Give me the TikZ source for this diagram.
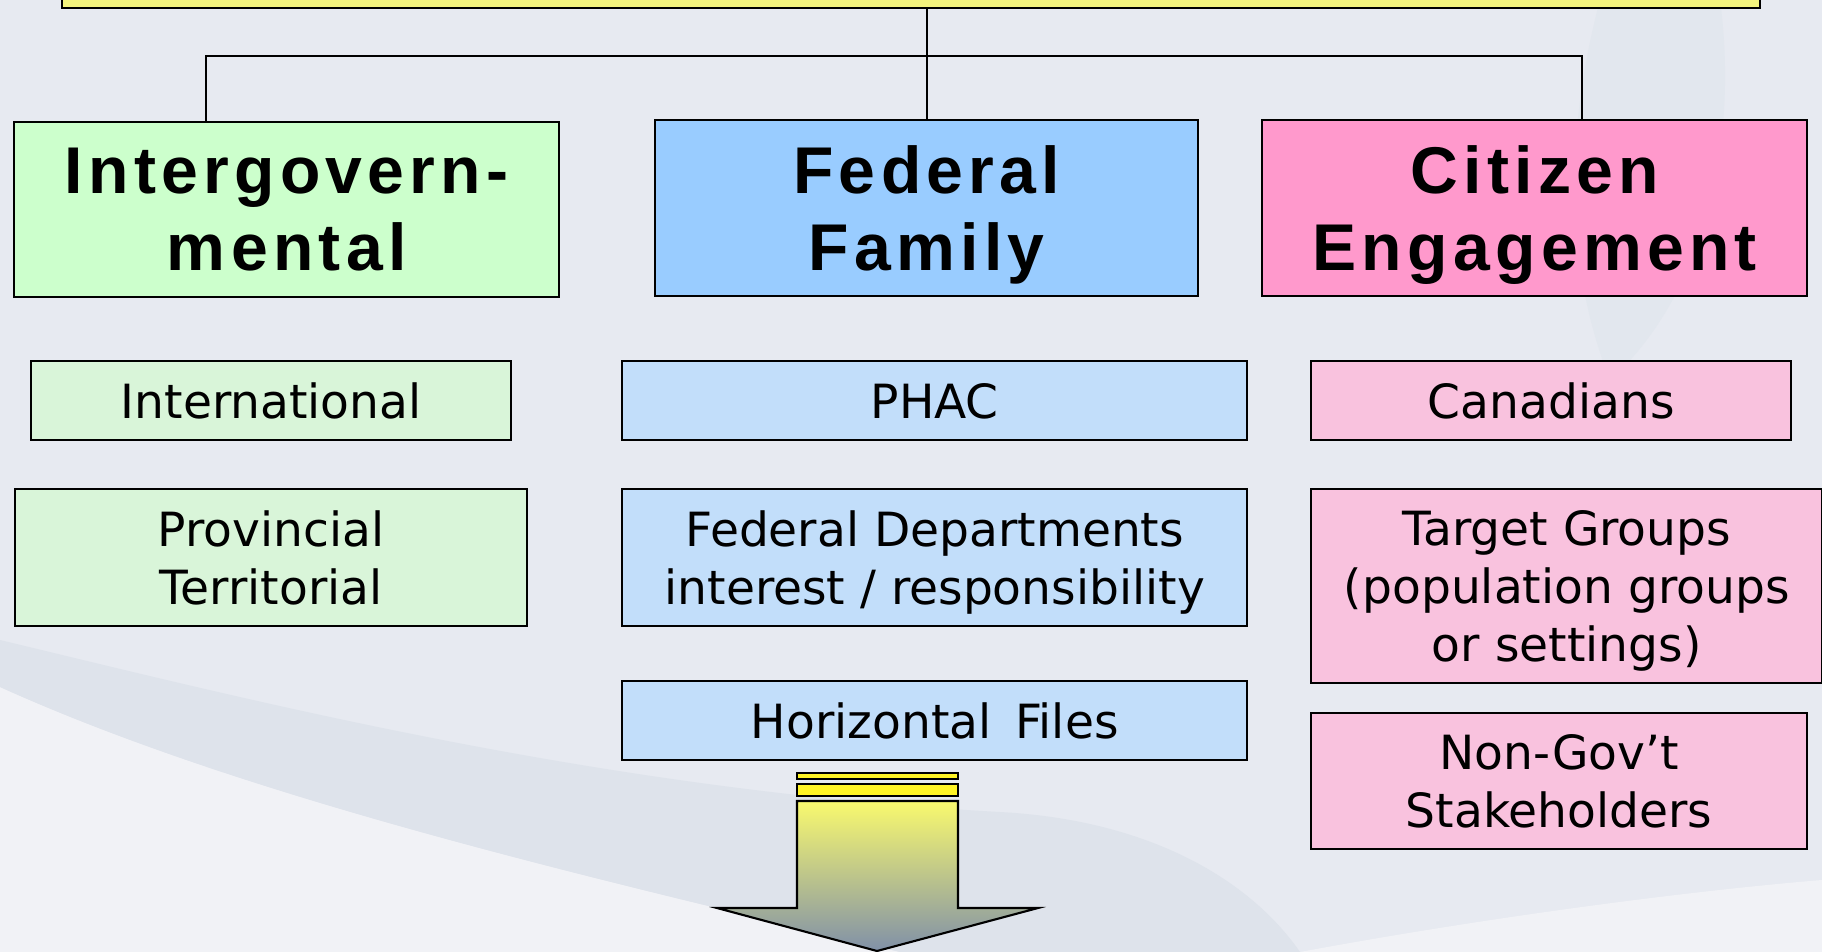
\documentclass[tikz,border=0pt]{standalone}
\usepackage{fontspec}
\setmainfont{DejaVu Sans}
\newfontfamily\headfont[LetterSpace=8]{Liberation Sans}
\usetikzlibrary{positioning}

\definecolor{bgbase}{HTML}{E7EAF1}
\definecolor{bglight}{HTML}{F1F2F6}
\definecolor{bgband}{HTML}{DEE3EB}
\definecolor{topyellow}{HTML}{F3F37D}
\definecolor{igbig}{HTML}{CCFFCC}
\definecolor{ffbig}{HTML}{99CCFF}
\definecolor{cebig}{HTML}{FF99CC}
\definecolor{igsmall}{HTML}{D9F5D9}
\definecolor{ffsmall}{HTML}{C2DEFA}
\definecolor{cesmall}{HTML}{F9C2DE}
\definecolor{arrowtop}{HTML}{F9F96E}
\definecolor{arrowbot}{HTML}{8090A8}

\tikzset{
  bigbox/.style={draw=black,line width=0.6pt,inner sep=0pt,anchor=north west,align=center,
    text depth=0pt,font=\headfont\bfseries\fontsize{18.8pt}{21.9pt}\selectfont},
  subbox/.style={draw=black,line width=0.6pt,inner sep=0pt,anchor=north west,align=center,
    text depth=0pt,font=\fontsize{13.4pt}{16.5pt}\selectfont},
  wire/.style={line width=0.5pt}
}

\begin{document}
\begin{tikzpicture}[x=0.01cm,y=-0.01cm]
\clip (0,0) rectangle (1822,952);
% background
\fill[bgbase] (0,0) rectangle (1822,952);
\fill[bglight] (0,687) .. controls (250,800) and (600,880) .. (900,952) -- (0,952) -- cycle;
\fill[bglight] (1300,952) .. controls (1500,915) and (1700,890) .. (1822,880) -- (1822,952) -- cycle;
\fill[bgband] (0,640) .. controls (250,700) and (600,790) .. (1000,812)
  .. controls (1150,820) and (1250,880) .. (1300,952)
  -- (900,952) .. controls (600,880) and (250,800) .. (0,687) -- cycle;
\fill[bgband!50!bgbase] (1600,0) .. controls (1560,150) and (1570,280) .. (1610,380)
  .. controls (1700,300) and (1740,150) .. (1720,0) -- cycle;

\path node (top) at (61,-100) [bigbox,fill=topyellow,minimum width=16.97cm,minimum height=1.07cm] {}
      node (ig) at (13,121) [bigbox,fill=igbig,minimum width=5.45cm,minimum height=1.75cm] {Intergovern-\\mental}
      node (ff) at (654,119) [bigbox,fill=ffbig,minimum width=5.43cm,minimum height=1.76cm] {Federal\\Family}
      node (ce) at (1261,119) [bigbox,fill=cebig,minimum width=5.45cm,minimum height=1.76cm] {Citizen\\Engagement};

\path node (intl) at (30,360) [subbox,fill=igsmall,minimum width=4.80cm,minimum height=0.79cm] {International}
      node (prov) at (14,488) [subbox,fill=igsmall,minimum width=5.12cm,minimum height=1.37cm] {Provincial\\Territorial}
      node (phac) at (621,360) [subbox,fill=ffsmall,minimum width=6.25cm,minimum height=0.79cm] {PHAC}
      node (fdep) at (621,488) [subbox,fill=ffsmall,minimum width=6.25cm,minimum height=1.37cm] {Federal Departments\\interest / responsibility}
      node (hfil) at (621,680) [subbox,fill=ffsmall,minimum width=6.25cm,minimum height=0.79cm] {Horizontal\enspace Files}
      node (can) at (1310,360) [subbox,fill=cesmall,minimum width=4.80cm,minimum height=0.79cm] {Canadians}
      node (tgt) at (1310,488) [subbox,fill=cesmall,minimum width=5.11cm,minimum height=1.94cm] {Target Groups\\(population groups\\or settings)}
      node (ngo) at (1310,712) [subbox,fill=cesmall,minimum width=4.96cm,minimum height=1.36cm] {Non-Gov’t\\Stakeholders};

\coordinate (igtap) at (206,121);
\coordinate (cetap) at (1582,119);
\draw[wire] (ff.north) -- (ff.north |- top.south);
\draw[wire] (igtap) -- ++(0,-65) -| (cetap);

% arrow below the horizontal files
\draw[line width=0.6pt,fill=yellow!85!white] (797,773) rectangle (958,779);
\draw[line width=0.6pt,fill=yellow!85!white] (797,784) rectangle (958,796);
\shade[top color=arrowtop,bottom color=arrowbot,draw=black,line width=0.6pt]
  (797,801) -- (958,801) -- (958,908) -- (1038,908) -- (877,951) -- (717,908) -- (797,908) -- cycle;
\end{tikzpicture}
\end{document}
